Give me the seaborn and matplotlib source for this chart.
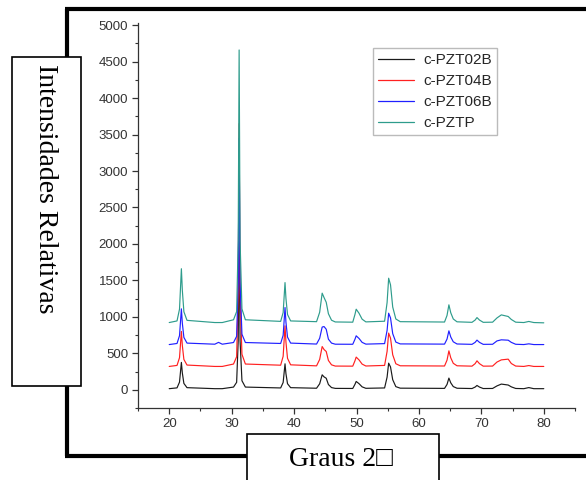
#!/usr/bin/env python3
"""XRD patterns of the c-PZT samples, stacked with an offset."""

import matplotlib
matplotlib.use("Agg")
import matplotlib.pyplot as plt
import pandas as pd
import seaborn as sns
from matplotlib.lines import Line2D
from matplotlib.patches import Rectangle
from matplotlib.ticker import MultipleLocator

W, H = 586, 480

# key points (2 theta, degrees)
two_theta = [
    20.0, 21.25, 21.65, 21.83, 21.95, 22.1, 22.35, 22.85,
    27.3, 27.9, 28.5,
    30.3, 30.8, 31.05, 31.2, 31.35, 31.65, 32.2,
    37.85, 38.25, 38.43, 38.55, 38.7, 38.95, 39.45,
    43.6, 44.1, 44.5, 44.8, 45.15, 45.5, 46.0, 46.6,
    49.4, 49.75, 49.95, 50.4, 50.9, 51.5,
    54.5, 54.9, 55.15, 55.45, 55.8, 56.3, 57.0,
    64.1, 64.5, 64.8, 65.1, 65.5, 66.1,
    68.5, 69.0, 69.3, 69.7, 70.3,
    71.8, 72.5, 73.2, 74.3, 74.8, 75.5,
    76.8, 77.6, 78.4, 80.0,
]

pzt02b = [
    15, 26, 105, 267, 375, 231, 87, 29,
    15, 15, 15,
    37, 102, 670, 2200, 670, 124, 37,
    25, 100, 254, 356, 220, 83, 29,
    21, 82, 205, 177, 158, 72, 30, 19,
    18, 74, 114, 84, 40, 20,
    25, 173, 365, 313, 138, 43, 22,
    19, 73, 160, 95, 44, 21,
    17, 37, 59, 37, 17,
    18, 53, 78, 65, 40, 18,
    15, 30, 15, 15,
]

pzt04b = [
    320, 334, 440, 656, 800, 608, 416, 339,
    320, 320, 320,
    353, 453, 1319, 3650, 1319, 487, 353,
    337, 459, 710, 877, 654, 431, 342,
    328, 416, 593, 552, 525, 402, 342, 325,
    324, 397, 448, 410, 352, 326,
    334, 526, 777, 708, 480, 357, 329,
    326, 406, 534, 438, 363, 329,
    324, 358, 397, 358, 324,
    325, 380, 410, 420, 360, 325,
    320, 332, 320, 320,
]

pzt06b = [
    620, 635, 742, 963, 1110, 914, 718, 640,
    625, 650, 625,
    648, 733, 1469, 3450, 1469, 762, 648,
    635, 747, 976, 1128, 925, 722, 640,
    627, 706, 860, 867, 830, 694, 640, 625,
    624, 692, 740, 704, 650, 626,
    633, 814, 1050, 985, 770, 654, 629,
    626, 695, 808, 723, 658, 628,
    623, 650, 681, 650, 623,
    624, 670, 685, 680, 650, 624,
    620, 630, 620, 620,
]

pztp = [
    922, 944, 1106, 1439, 1660, 1365, 1070, 952,
    922, 922, 922,
    960, 1072, 2043, 4660, 2043, 1109, 960,
    938, 1059, 1306, 1470, 1251, 1032, 944,
    934, 1063, 1325, 1265, 1200, 1043, 954, 930,
    927, 1032, 1105, 1050, 968, 931,
    940, 1196, 1530, 1439, 1135, 971, 934,
    929, 1019, 1165, 1056, 971, 932,
    925, 956, 990, 956, 925,
    927, 985, 1027, 1005, 964, 927,
    922, 937, 922, 918,
]

samples = ["c-PZT02B", "c-PZT04B", "c-PZT06B", "c-PZTP"]
colors = ["#1a1a1a", "#ff2020", "#2020ff", "#2e9c8c"]

x_ticks = [20, 30, 40, 50, 60, 70, 80]
y_ticks = [0, 500, 1000, 1500, 2000, 2500, 3000, 3500, 4000, 4500, 5000]


def fig_xy(px, py):
    return px / W, 1 - py / H


def main() -> None:
    series = [pzt02b, pzt04b, pzt06b, pztp]
    df = pd.concat(
        [
            pd.DataFrame({"two_theta": two_theta, "intensity": vals, "sample": name})
            for name, vals in zip(samples, series)
        ],
        ignore_index=True,
    )

    sns.set_theme(style="ticks")
    plt.rcParams["font.family"] = ["Liberation Sans", "DejaVu Sans"]

    fig = plt.figure(figsize=(W / 100, H / 100), dpi=100)
    fig.patch.set_facecolor("white")
    ax = fig.add_axes([138 / W, (H - 408) / H, 437 / W, 385 / H])

    sns.lineplot(
        data=df, x="two_theta", y="intensity", hue="sample",
        palette=dict(zip(samples, colors)), hue_order=samples,
        estimator=None, sort=False, linewidth=0.85, ax=ax,
    )

    ax.set_xlim(15, 85)
    ax.set_ylim(-250, 5030)
    ax.set_xticks(x_ticks)
    ax.set_yticks(y_ticks)
    ax.xaxis.set_minor_locator(MultipleLocator(5))
    ax.yaxis.set_minor_locator(MultipleLocator(250))
    ax.tick_params(which="major", length=4, width=0.9, color="#333333",
                   labelsize=9.5, labelcolor="#333333", pad=3)
    ax.tick_params(which="minor", length=2.5, width=0.8, color="#333333")
    ax.set_xlabel("")
    ax.set_ylabel("")
    for side in ("top", "right"):
        ax.spines[side].set_visible(False)
    for side in ("left", "bottom"):
        ax.spines[side].set_color("#333333")
        ax.spines[side].set_linewidth(0.9)

    leg = ax.legend(
        loc="upper left", bbox_to_anchor=((373 - 138) / 437, (408 - 48) / 385),
        borderaxespad=0, frameon=True, fancybox=False, fontsize=11,
        handlelength=2.35, handletextpad=0.6, labelspacing=0.45, borderpad=0.35,
    )
    leg.get_frame().set_edgecolor("#aaaaaa")
    leg.get_frame().set_linewidth(1.0)
    for line in leg.get_lines():
        line.set_linewidth(0.9)

    # thick outer frame
    frame = [
        [(65, 9), (586, 9)],
        [(67, 9), (67, 57)],
        [(67, 386), (67, 456)],
        [(65, 456), (247, 456)],
        [(439, 456), (586, 456)],
    ]
    for (x0, y0), (x1, y1) in frame:
        a, b = fig_xy(x0, y0)
        c, d = fig_xy(x1, y1)
        fig.add_artist(Line2D([a, c], [b, d], transform=fig.transFigure,
                              color="black", linewidth=3.0, solid_capstyle="butt"))

    # boxed axis titles
    bx, by = fig_xy(12, 386)
    fig.add_artist(Rectangle((bx, by), 69 / W, 329 / H, transform=fig.transFigure,
                             facecolor="white", edgecolor="black", linewidth=1.2))
    tx, ty = fig_xy(45, 189)
    fig.text(tx, ty, "Intensidades Relativas", rotation=-90, ha="center", va="center",
             fontsize=20, family=["Liberation Serif", "DejaVu Serif"], color="black")

    bx, by = fig_xy(247, 500)
    fig.add_artist(Rectangle((bx, by), 192 / W, 66 / H, transform=fig.transFigure,
                             facecolor="white", edgecolor="black", linewidth=1.2))
    tx, ty = fig_xy(341, 460)
    fig.text(tx, ty, "Graus 2\u25a1", ha="center", va="center",
             fontsize=20, family=["Liberation Serif", "DejaVu Sans"], color="black")

    fig.savefig("out.png", dpi=100, facecolor="white")
    plt.close(fig)


if __name__ == "__main__":
    main()
